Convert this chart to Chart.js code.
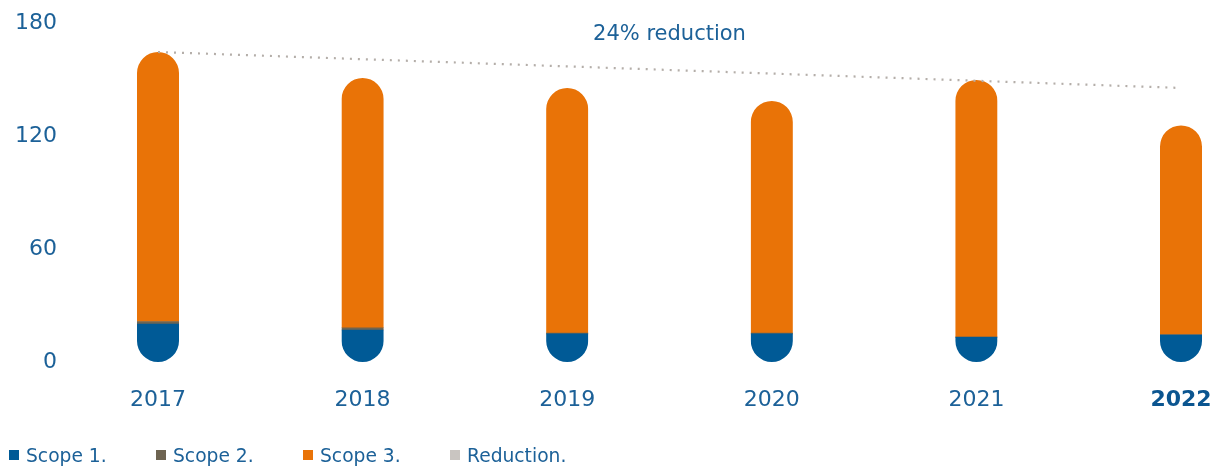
<!DOCTYPE html>
<html>
<head>
<meta charset="utf-8">
<script src="https://cdn.jsdelivr.net/npm/chart.js@4.4.1/dist/chart.umd.min.js"></script>
<style>
  html, body { margin: 0; padding: 0; background: #ffffff; }
  #wrap { position: relative; width: 1219px; height: 470px; }
  #chart { position: absolute; left: 0; top: 0; }
  #legend {
    position: absolute; left: 9px; top: 444px; display: flex;
    font-family: "DejaVu Sans", sans-serif; font-size: 18.7px; color: #1c6198;
  }
  .item { width: 147px; display: flex; align-items: center; height: 22px; }
  .box { width: 10px; height: 10px; margin-right: 7px; flex: none; }
</style>
</head>
<body>
<div id="wrap">
  <canvas id="chart" width="1219" height="470"></canvas>
  <div id="legend"></div>
</div>
<script>
// Emissions by year, split by scope
const years = ['2017', '2018', '2019', '2020', '2021', '2022'];
const scope1 = [20.2, 17.0, 14.9, 14.9, 13.1, 14.3];
const scope2 = [1.3, 1.2, 0.4, 0.4, 0.3, 0.3];
const scope3 = [143.1, 132.6, 130.2, 123.3, 136.4, 111.0];
// Trend line from the first year to the last year
const reduction = [164.6, null, null, null, null, 145.5];
const yTicks = [0, 60, 120, 180];
const reductionText = '24% reduction';

const BLUE = '#005a96';
const GREY = '#6e6451';
const ORANGE = '#e97307';
const TEXT = '#1c6198';
const FONT = '"DejaVu Sans", sans-serif';
const BAR_W = 42;

// Clip the stacked segments of each year into one pill shape
const pillClip = {
  id: 'pillClip',
  beforeDatasetDraw(chart, args) {
    if (args.meta.type !== 'bar') return;
    const ctx = chart.ctx;
    const first = chart.getDatasetMeta(0);
    const last = chart.getDatasetMeta(2);
    ctx.save();
    ctx.beginPath();
    last.data.forEach((bar, i) => {
      const bottom = first.data[i].base;
      const top = bar.y;
      const r = BAR_W / 2;
      ctx.roundRect(bar.x - r, top, BAR_W, bottom - top, r);
    });
    ctx.clip();
  },
  afterDatasetDraw(chart, args) {
    if (args.meta.type === 'bar') chart.ctx.restore();
  }
};

// Caption above the plot, centred on the plot area
const caption = {
  id: 'caption',
  afterDraw(chart) {
    const { ctx, chartArea } = chart;
    ctx.save();
    ctx.font = '21px ' + FONT;
    ctx.fillStyle = TEXT;
    ctx.textAlign = 'center';
    ctx.textBaseline = 'alphabetic';
    ctx.fillText(reductionText, (chartArea.left + chartArea.right) / 2, 40);
    ctx.restore();
  }
};

const chart = new Chart(document.getElementById('chart'), {
  type: 'bar',
  data: {
    labels: years,
    datasets: [
      { label: 'Scope 1.', data: scope1, backgroundColor: BLUE, barThickness: BAR_W, clip: false, order: 2 },
      { label: 'Scope 2.', data: scope2, backgroundColor: GREY, barThickness: BAR_W, clip: false, order: 2 },
      { label: 'Scope 3.', data: scope3, backgroundColor: ORANGE, barThickness: BAR_W, clip: false, order: 2 },
      {
        type: 'line', label: 'Reduction.', data: reduction, spanGaps: true,
        borderColor: '#b4aea9', backgroundColor: '#c9c5c1', borderWidth: 2.2,
        borderDash: [2, 6], pointRadius: 0, fill: false, clip: false, order: 1
      }
    ]
  },
  options: {
    responsive: false,
    animation: false,
    layout: { padding: { top: 23, right: 38, left: 0, bottom: 0 } },
    plugins: { legend: { display: false }, tooltip: { enabled: false } },
    scales: {
      x: {
        stacked: true,
        offset: false,
        grid: { display: false, drawTicks: false },
        border: { display: false },
        ticks: {
          padding: 25,
          maxRotation: 0,
          color: (c) => c.index === 5 ? '#0b5590' : TEXT,
          font: (c) => ({ family: FONT, size: 22, weight: c.index === 5 ? 'bold' : 'normal' })
        },
        afterFit(scale) {
          scale.height = 108;
          scale.paddingLeft = 0;
          scale.paddingRight = 0;
        }
      },
      y: {
        stacked: true,
        min: 0,
        max: 180,
        afterBuildTicks(scale) { scale.ticks = yTicks.map(v => ({ value: v })); },
        grid: { display: false, drawTicks: false },
        border: { display: false },
        ticks: { padding: 101, color: TEXT, font: { family: FONT, size: 22 } },
        afterFit(scale) {
          scale.width = 158;
          scale.paddingTop = 0;
          scale.paddingBottom = 0;
        }
      }
    }
  },
  plugins: [pillClip, caption]
});

// Legend built from the datasets
const legend = document.getElementById('legend');
chart.data.datasets.forEach(ds => {
  const item = document.createElement('div');
  item.className = 'item';
  const box = document.createElement('span');
  box.className = 'box';
  box.style.background = ds.backgroundColor;
  const label = document.createElement('span');
  label.textContent = ds.label;
  item.appendChild(box);
  item.appendChild(label);
  legend.appendChild(item);
});
</script>
</body>
</html>
